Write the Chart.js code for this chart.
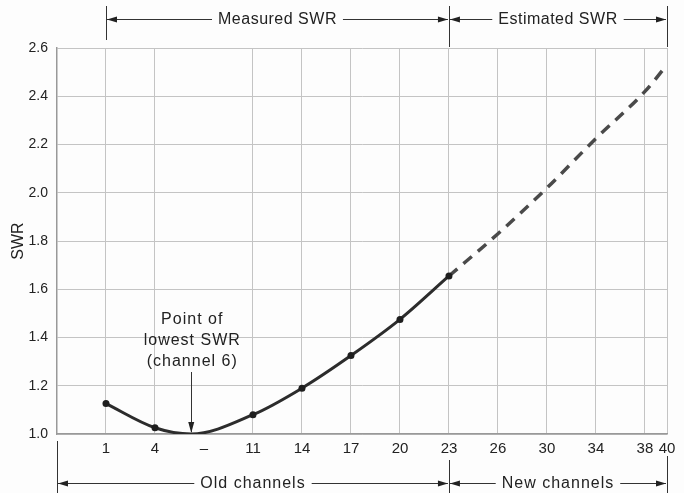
<!DOCTYPE html>
<html>
<head>
<meta charset="utf-8">
<script src="https://cdn.jsdelivr.net/npm/chart.js@4/dist/chart.umd.min.js"></script>
<style>
  html, body { margin: 0; padding: 0; background: #fdfdfd; }
  #wrap { width: 684px; height: 493px; }
</style>
</head>
<body>
<div id="wrap"><canvas id="c" width="684" height="493"></canvas></div>
<script>
// Category labels along the x axis and their (evenly spaced) slot positions
const channelLabels = ['1', '4', '–', '11', '14', '17', '20', '23', '26', '30', '34', '38', '40'];
const tickPositions = [1, 2, 3, 4, 5, 6, 7, 8, 9, 10, 11, 12, 12.45];

// Measured SWR (solid curve); the minimum (channel 6) has no marker
const measuredX = [1, 2, 2.74, 4, 5, 6, 7, 8];
const measuredSWR = [1.126, 1.026, 1.0, 1.08, 1.19, 1.325, 1.475, 1.655];
const measuredMarker = [1, 1, 0, 1, 1, 1, 1, 1];

// Estimated SWR (dashed)
const estimatedX = [8, 9, 10, 11, 12, 12.45];
const estimatedSWR = [1.655, 1.83, 2.02, 2.225, 2.42, 2.53];

// Y ticks
const swrTicks = [1.0, 1.2, 1.4, 1.6, 1.8, 2.0, 2.2, 2.4, 2.6];

// Annotation texts
const topBands = [
  { from: 1, to: 8, text: 'Measured SWR' },
  { from: 8, to: 12.45, text: 'Estimated SWR' }
];
const bottomBands = [
  { from: 0, to: 8, text: 'Old channels' },
  { from: 8, to: 12.45, text: 'New channels' }
];
const noteLines = ['Point of', 'lowest SWR', '(channel 6)'];
const noteX = 2.74;

const FONT = "'Liberation Sans', Arial, sans-serif";

const annotPlugin = {
  id: 'annot',
  afterDraw(chart) {
    const ctx = chart.ctx;
    const xs = chart.scales.x, ys = chart.scales.y;
    const px = v => xs.getPixelForValue(v);
    ctx.save();
    ctx.strokeStyle = '#333';
    ctx.fillStyle = '#222';
    ctx.lineWidth = 1;

    function arrowHead(x, y, dir) {
      ctx.beginPath();
      ctx.moveTo(x, y);
      ctx.lineTo(x - dir * 10, y - 3);
      ctx.lineTo(x - dir * 10, y + 3);
      ctx.closePath();
      ctx.fill();
    }
    function band(b, y, spacing) {
      const x1 = px(b.from), x2 = px(b.to);
      ctx.font = '16px ' + FONT;
      ctx.letterSpacing = spacing;
      const tw = ctx.measureText(b.text).width;
      const cx = (x1 + x2) / 2;
      ctx.beginPath();
      ctx.moveTo(x1 + 1, y + 0.5); ctx.lineTo(cx - tw / 2 - 6, y + 0.5);
      ctx.moveTo(cx + tw / 2 + 6, y + 0.5); ctx.lineTo(x2 - 1, y + 0.5);
      ctx.stroke();
      arrowHead(x1 + 1, y + 0.5, -1);
      arrowHead(x2 - 1, y + 0.5, 1);
      ctx.textAlign = 'center';
      ctx.textBaseline = 'middle';
      ctx.fillText(b.text, cx, y + 1);
      ctx.letterSpacing = '0px';
    }
    // top brackets
    const yTop = 19;
    ctx.beginPath();
    [[1, 6, 40], [8, 6, 47], [12.45, 6, 47]].forEach(([v, a, bb]) => {
      const x = Math.round(px(v)) + 0.5;
      ctx.moveTo(x, a); ctx.lineTo(x, bb);
    });
    ctx.stroke();
    topBands.forEach(b => band(b, yTop, '0.5px'));

    // bottom brackets
    const yBot = 483;
    ctx.beginPath();
    [[0, 441, 493], [8, 460, 493], [12.45, 456, 493]].forEach(([v, a, bb]) => {
      const x = Math.round(px(v)) + 0.5;
      ctx.moveTo(x, a); ctx.lineTo(x, bb);
    });
    ctx.stroke();
    bottomBands.forEach(b => band(b, yBot, '1px'));

    // note + arrow
    const nx = px(noteX);
    ctx.font = '16px ' + FONT;
    ctx.letterSpacing = '1px';
    ctx.textAlign = 'center';
    ctx.textBaseline = 'middle';
    noteLines.forEach((t, i) => ctx.fillText(t, nx + 1, 320 + i * 21));
    ctx.letterSpacing = '0px';
    const yMin = ys.getPixelForValue(1.0);
    ctx.beginPath();
    ctx.moveTo(Math.round(nx) + 0.5, 372);
    ctx.lineTo(Math.round(nx) + 0.5, yMin - 2);
    ctx.stroke();
    ctx.beginPath();
    ctx.moveTo(nx, yMin - 1);
    ctx.lineTo(nx - 3, yMin - 12);
    ctx.lineTo(nx + 3, yMin - 12);
    ctx.closePath();
    ctx.fill();
    ctx.restore();
  }
};

const bgPlugin = {
  id: 'bg',
  beforeDraw(chart) {
    const ctx = chart.ctx;
    ctx.save();
    ctx.fillStyle = '#fdfdfd';
    ctx.fillRect(0, 0, chart.width, chart.height);
    ctx.restore();
  }
};

new Chart(document.getElementById('c'), {
  type: 'scatter',
  data: {
    datasets: [
      {
        label: 'Measured SWR',
        data: measuredX.map((x, i) => ({ x, y: measuredSWR[i] })),
        showLine: true,
        borderColor: '#2c2c2c',
        backgroundColor: '#1e1e1e',
        borderWidth: 3,
        cubicInterpolationMode: 'monotone',
        pointRadius: measuredMarker.map(m => m ? 3.5 : 0),
        pointBorderWidth: 0
      },
      {
        label: 'Estimated SWR',
        data: estimatedX.map((x, i) => ({ x, y: estimatedSWR[i] })),
        showLine: true,
        borderColor: '#4a4a4a',
        borderWidth: 3.5,
        borderDash: [11, 8],
        cubicInterpolationMode: 'monotone',
        pointRadius: 0
      }
    ]
  },
  options: {
    responsive: false,
    animation: false,
    devicePixelRatio: 1,
    layout: { padding: { top: 48, right: 17, bottom: 29, left: 0 } },
    plugins: { legend: { display: false }, tooltip: { enabled: false } },
    scales: {
      x: {
        type: 'linear',
        min: 0,
        max: tickPositions[tickPositions.length - 1],
        afterBuildTicks: s => { s.ticks = tickPositions.map(v => ({ value: v })); },
        ticks: {
          autoSkip: false, maxRotation: 0, color: '#222', padding: 6,
          font: { family: FONT, size: 15 },
          callback: (v, i) => channelLabels[i]
        },
        grid: {
          color: ctx => (ctx.index === 2 ? 'rgba(0,0,0,0)' : '#c4c4c4'),
          lineWidth: 1,
          drawTicks: false
        },
        border: { color: '#999', width: 1.5 }
      },
      y: {
        min: 1.0, max: 2.6,
        afterBuildTicks: s => { s.ticks = swrTicks.map(v => ({ value: v })); },
        afterFit: s => { s.width = 57; },
        ticks: {
          color: '#222', padding: 9,
          font: { family: FONT, size: 14 },
          callback: v => v.toFixed(1)
        },
        title: { display: true, text: 'SWR', color: '#222', font: { family: FONT, size: 16 }, padding: 9 },
        grid: { color: '#c4c4c4', lineWidth: 1, drawTicks: false },
        border: { color: '#999', width: 1.5 }
      }
    }
  },
  plugins: [bgPlugin, annotPlugin]
});
</script>
</body>
</html>
